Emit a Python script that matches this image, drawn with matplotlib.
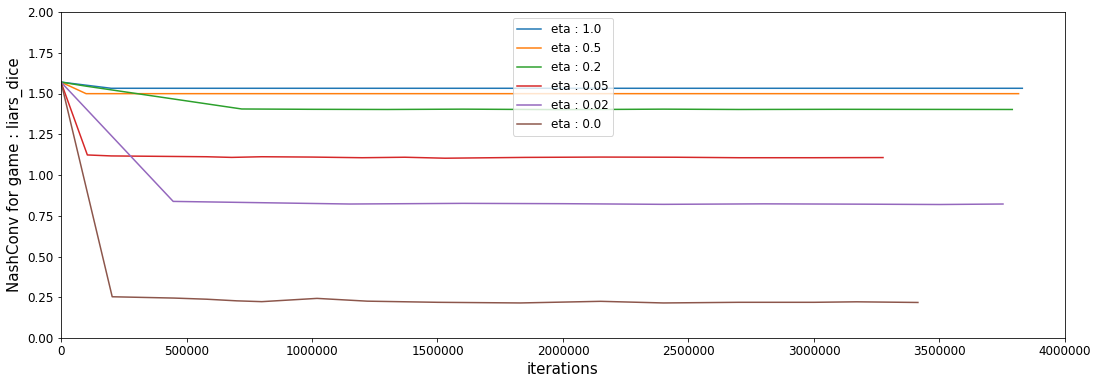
import matplotlib
matplotlib.use("Agg")
import matplotlib.pyplot as plt

# values
x_eta_1 = [0, 200000, 1000000, 2000000, 3000000, 3830000]
y_eta_1 = [1.57, 1.532, 1.532, 1.532, 1.532, 1.532]

x_eta_05 = [0, 100000, 800000, 1600000, 2400000, 3200000, 3815000]
y_eta_05 = [1.57, 1.499, 1.499, 1.499, 1.499, 1.499, 1.499]

x_eta_02 = [0, 100000, 720000, 1000000, 1300000, 1600000, 2000000, 2400000, 2700000, 3100000, 3790000]
y_eta_02 = [1.57, 1.545, 1.405, 1.403, 1.402, 1.404, 1.401, 1.404, 1.402, 1.403, 1.402]

x_eta_005 = [0, 105000, 200000, 580000, 680000, 800000, 1000000, 1200000, 1370000, 1530000, 1850000, 2150000, 2450000, 2700000, 3000000, 3275000]
y_eta_005 = [1.57, 1.123, 1.117, 1.112, 1.108, 1.112, 1.110, 1.106, 1.109, 1.103, 1.108, 1.110, 1.109, 1.106, 1.106, 1.107]

x_eta_002 = [0, 447000, 800000, 1150000, 1600000, 2000000, 2400000, 2800000, 3200000, 3500000, 3753000]
y_eta_002 = [1.57, 0.838, 0.830, 0.822, 0.826, 0.824, 0.820, 0.823, 0.821, 0.819, 0.822]

x_eta_0 = [0, 204000, 450000, 580000, 700000, 800000, 1020000, 1220000, 1500000, 1830000, 2150000, 2400000, 2700000, 3000000, 3170000, 3414000]
y_eta_0 = [1.57, 0.253, 0.245, 0.238, 0.228, 0.223, 0.243, 0.226, 0.219, 0.215, 0.225, 0.215, 0.219, 0.219, 0.222, 0.218]

labels = ["eta : 1.0", "eta : 0.5", "eta : 0.2", "eta : 0.05", "eta : 0.02", "eta : 0.0"]
xs = [x_eta_1, x_eta_05, x_eta_02, x_eta_005, x_eta_002, x_eta_0]
ys = [y_eta_1, y_eta_05, y_eta_02, y_eta_005, y_eta_002, y_eta_0]

fig = plt.figure(figsize=(1099 / 72, 384 / 72), dpi=72)
ax = fig.add_axes([61 / 1099, 46 / 384, 1004 / 1099, 326 / 384])

for x, y, lab in zip(xs, ys, labels):
    ax.plot(x, y, label=lab)

ax.set_xlim(0, 4000000)
ax.set_ylim(0, 2)
ax.set_xticks(range(0, 4000001, 500000))
ax.set_xticklabels([str(v) for v in range(0, 4000001, 500000)])
ax.set_yticks([i * 0.25 for i in range(9)])
ax.tick_params(labelsize=12)
ax.set_xlabel("iterations", fontsize=15)
ax.set_ylabel("NashConv for game : liars_dice", fontsize=15)
ax.legend(loc="upper center", fontsize=12)

fig.savefig("out.png", dpi=72)
